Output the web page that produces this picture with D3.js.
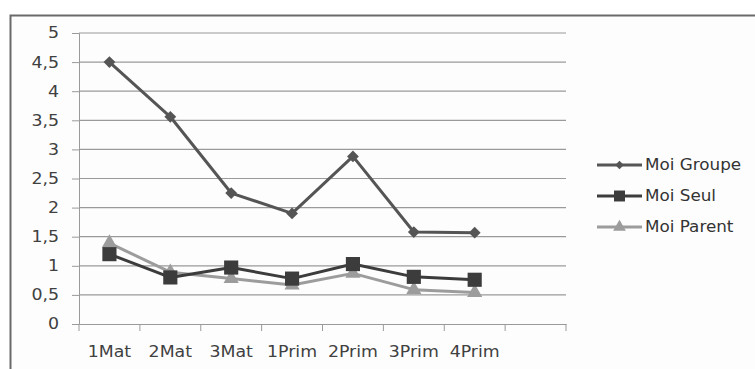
<!DOCTYPE html>
<html><head><meta charset="utf-8">
<script src="https://cdn.jsdelivr.net/npm/d3@7"></script>
<style>body{margin:0;background:#fff}svg{display:block}</style>
</head><body>
<script>
const categories = ["1Mat","2Mat","3Mat","1Prim","2Prim","3Prim","4Prim"];
const slots = categories.concat([""]);
const moiGroupe = [4.5, 3.56, 2.25, 1.9, 2.88, 1.58, 1.57];
const moiSeul   = [1.2, 0.8, 0.97, 0.78, 1.03, 0.81, 0.76];
const moiParent = [1.39, 0.89, 0.78, 0.67, 0.87, 0.59, 0.54];
const yTicks = [0, 0.5, 1, 1.5, 2, 2.5, 3, 3.5, 4, 4.5, 5];

const W = 755, H = 369;
const STRETCH = 1.12;   // slightly widened lettering
const svg = d3.select("body").append("svg").attr("width", W).attr("height", H);

// outer chart frame
svg.append("rect").attr("x", 10.5).attr("y", 15.5).attr("width", 760).attr("height", 380)
  .attr("fill", "#fdfdfd").attr("stroke", "#6a6a6a").attr("stroke-width", 2);

const x = d3.scaleBand().domain(slots.map((d,i)=>i)).range([79, 566]);
const y = d3.scaleLinear().domain([0, 5]).range([324, 33]);
const fmt = d => String(d).replace(".", ",");

function widen(sel) {
  sel.each(function() {
    const t = d3.select(this);
    const x0 = +t.attr("x") || 0;
    t.attr("x", x0 / STRETCH).attr("transform", `scale(${STRETCH},1)`);
  });
}

// horizontal gridlines
svg.append("g").selectAll("line").data(yTicks.filter(d=>d>0)).join("line")
  .attr("x1", 79).attr("x2", 566).attr("y1", d=>y(d)).attr("y2", d=>y(d))
  .attr("stroke", "#9a9a9a").attr("stroke-width", 1.2);

// y axis
const yAxis = svg.append("g").attr("transform", "translate(79,0)")
  .call(d3.axisLeft(y).tickValues(yTicks).tickFormat(fmt).tickSize(7).tickPadding(13));
yAxis.select(".domain").attr("stroke", "#9a9a9a");
yAxis.selectAll(".tick line").attr("stroke", "#9a9a9a");
yAxis.selectAll("text").attr("font-family", "DejaVu Sans, Verdana, sans-serif")
  .attr("font-size", 15.5).attr("fill", "#404040").call(widen);

// x axis
const xAxis = svg.append("g").attr("transform", "translate(0,324)")
  .call(d3.axisBottom(x).tickFormat(i=>slots[i]).tickSize(0).tickPadding(22));
xAxis.select(".domain").attr("stroke", "#9a9a9a").attr("stroke-width", 1.2);
xAxis.selectAll("text").attr("font-family", "DejaVu Sans, Verdana, sans-serif")
  .attr("font-size", 15.5).attr("fill", "#404040").call(widen);
svg.append("g").selectAll("line").data(d3.range(slots.length + 1)).join("line")
  .attr("x1", i => i < slots.length ? x(i) : x.range()[1])
  .attr("x2", i => i < slots.length ? x(i) : x.range()[1])
  .attr("y1", 324).attr("y2", 331).attr("stroke", "#9a9a9a");

const cx = i => x(i) + x.bandwidth()/2;

const series = [
  {name:"Moi Groupe", values:moiGroupe, color:"#555555", symbol:d3.symbolSquare, size:70, rot:45, lsize:36},
  {name:"Moi Seul",   values:moiSeul,   color:"#3c3c3c", symbol:d3.symbolSquare, size:200, rot:0, lsize:120},
  {name:"Moi Parent", values:moiParent, color:"#9c9c9c", symbol:d3.symbolTriangle, size:100, rot:0, lsize:70}
];

const line = d3.line().x((d,i)=>cx(i)).y(d=>y(d));
// lighter series first so the darker ones sit on top
[series[2], series[1], series[0]].forEach(s => {
  svg.append("path").datum(s.values).attr("d", line).attr("fill", "none")
    .attr("stroke", s.color).attr("stroke-width", 3).attr("stroke-linejoin", "round");
  svg.append("g").selectAll("path").data(s.values).join("path")
    .attr("transform", (d,i)=>`translate(${cx(i)},${y(d)}) rotate(${s.rot})`)
    .attr("d", d3.symbol().type(s.symbol).size(s.size)).attr("fill", s.color);
});

// legend
const lg = svg.append("g");
series.forEach((s, k) => {
  const ly = 165 + k * 31;
  lg.append("line").attr("x1", 597).attr("x2", 642).attr("y1", ly).attr("y2", ly)
    .attr("stroke", s.color).attr("stroke-width", 3);
  lg.append("path").attr("transform", `translate(619.5,${ly}) rotate(${s.rot})`)
    .attr("d", d3.symbol().type(s.symbol).size(s.lsize)).attr("fill", s.color);
  lg.append("text").attr("x", 645).attr("y", ly).attr("dy", "0.36em")
    .attr("font-family", "DejaVu Sans, Verdana, sans-serif").attr("font-size", 15)
    .attr("fill", "#333").text(s.name).call(widen);
});
</script>
</body></html>
